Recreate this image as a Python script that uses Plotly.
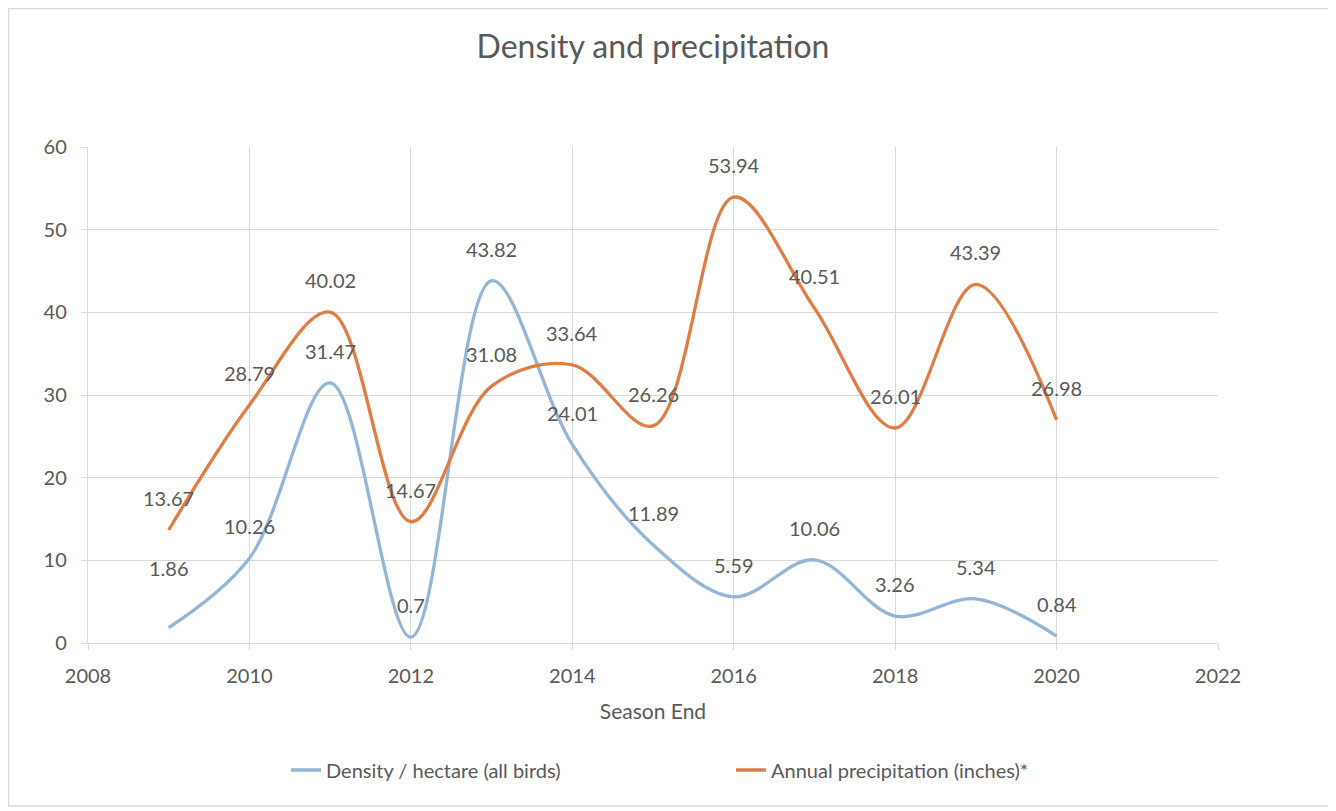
import plotly.graph_objects as go

season_end = [2009, 2010, 2011, 2012, 2013, 2014, 2015, 2016, 2017, 2018, 2019, 2020]
density = [1.86, 10.26, 31.47, 0.7, 43.82, 24.01, 11.89, 5.59, 10.06, 3.26, 5.34, 0.84]
precip = [13.67, 28.79, 40.02, 14.67, 31.08, 33.64, 26.26, 53.94, 40.51, 26.01, 43.39, 26.98]

BLUE = "#93B6D8"
ORANGE = "#DE7E44"
TEXT = "#595959"
GRID = "#D9D9D9"
FONT = "Lato"

# the page body adds an 8px margin, so the figure is a little smaller
W, H = 1328, 803
L, R, T, B = 80, 118, 139, 168
pw, ph = W - L - R, H - T - B


def px_x(p):
    return (p - L) / pw


def px_y(p):
    return (H - B - p) / ph


fig = go.Figure()
fig.add_trace(go.Scatter(
    x=season_end, y=density, mode="lines", name="Density / hectare (all birds)",
    line=dict(color=BLUE, width=3.3, shape="spline", smoothing=1.0),
))
fig.add_trace(go.Scatter(
    x=season_end, y=precip, mode="lines", name="Annual precipitation (inches)*",
    line=dict(color=ORANGE, width=3.3, shape="spline", smoothing=1.0),
))

# data labels sit above each point, as in the Excel original
for series in (density, precip):
    for yr, v in zip(season_end, series):
        shift = 60 if v == 1.86 else 32
        fig.add_annotation(
            x=yr, y=v, text=str(v), showarrow=False,
            xanchor="center", yanchor="middle", yshift=shift,
            font=dict(family=FONT, size=20, color=TEXT),
        )

# light outer frame of the chart
fig.add_shape(
    type="rect", xref="paper", yref="paper",
    x0=px_x(0.5), x1=px_x(1322), y0=px_y(798), y1=px_y(0.5),
    line=dict(color=GRID, width=1.5), layer="below",
)

fig.update_layout(
    width=W, height=H,
    margin=dict(l=L, r=R, t=T, b=B),
    paper_bgcolor="white", plot_bgcolor="white",
    font=dict(family=FONT, size=20, color=TEXT),
    title=dict(text="Density and precipitation", x=0.5, xref="paper",
               y=1 - 39 / H, yanchor="middle",
               font=dict(family=FONT, size=32, color=TEXT)),
    xaxis=dict(
        range=[2008, 2022], tick0=2008, dtick=2,
        showgrid=True, gridcolor=GRID, gridwidth=1.4,
        showline=True, linecolor=GRID, linewidth=1.4,
        ticks="outside", ticklen=6, tickcolor=GRID,
        ticklabelstandoff=9,
        zeroline=False,
        title=dict(text="Season End", standoff=18,
                   font=dict(family=FONT, size=21, color=TEXT)),
    ),
    yaxis=dict(
        range=[0, 60], dtick=10,
        showgrid=True, gridcolor=GRID, gridwidth=1.4,
        showline=True, linecolor=GRID, linewidth=1.4,
        ticks="outside", ticklen=6, tickcolor=GRID,
        ticklabelstandoff=10,
        zeroline=False,
    ),
    legend=dict(
        orientation="h", x=0.5 + 78 / pw, xanchor="center",
        y=px_y(762), yanchor="middle",
        entrywidth=400, entrywidthmode="pixels",
        font=dict(family=FONT, size=20, color=TEXT),
    ),
    showlegend=True,
)

fig.write_html("out.html")
